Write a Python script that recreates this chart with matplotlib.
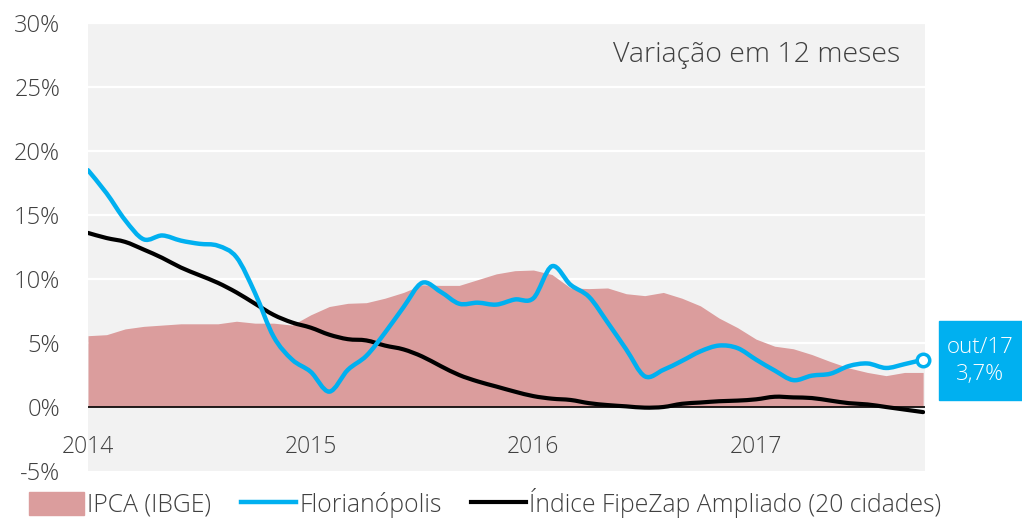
import numpy as np
import matplotlib
matplotlib.use("Agg")
import matplotlib.pyplot as plt
from matplotlib.path import Path
from matplotlib.patches import PathPatch, Patch, Rectangle
from matplotlib.lines import Line2D

# monthly data, jan/2014 .. out/2017 (variação em 12 meses, %)
months = np.arange(46)
ipca = [5.57, 5.65, 6.1, 6.3, 6.4, 6.5, 6.5, 6.5, 6.7, 6.55, 6.55, 6.4,
        7.2, 7.85, 8.1, 8.15, 8.5, 8.95, 9.55, 9.5, 9.5, 9.95, 10.4, 10.65,
        10.7, 10.35, 9.3, 9.25, 9.3, 8.85, 8.7, 8.95, 8.5, 7.9, 6.95, 6.2,
        5.3, 4.75, 4.55, 4.1, 3.55, 3.05, 2.7, 2.45, 2.7, 2.7]
floripa = [18.5, 16.7, 14.6, 13.1, 13.4, 13.0, 12.75, 12.6, 11.7, 8.9, 5.5, 3.7,
           2.75, 1.2, 2.9, 4.0, 5.8, 7.8, 9.7, 9.0, 8.07, 8.15, 8.0, 8.4,
           8.5, 11.0, 9.55, 8.6, 6.6, 4.5, 2.4, 2.9, 3.6, 4.35, 4.8, 4.6,
           3.7, 2.85, 2.1, 2.45, 2.6, 3.2, 3.4, 3.05, 3.35, 3.7]
fipezap = [13.6, 13.2, 12.9, 12.3, 11.65, 10.9, 10.3, 9.7, 8.95, 8.07, 7.2, 6.6,
           6.2, 5.65, 5.3, 5.2, 4.8, 4.5, 3.95, 3.2, 2.5, 2.0, 1.6, 1.2,
           0.85, 0.65, 0.55, 0.3, 0.15, 0.05, -0.05, 0.0, 0.25, 0.35, 0.45, 0.5,
           0.6, 0.8, 0.75, 0.7, 0.5, 0.3, 0.2, 0.0, -0.2, -0.4]
year_pos = [0, 12, 24, 36]
year_labels = ["2014", "2015", "2016", "2017"]
yticks = [-5, 0, 5, 10, 15, 20, 25, 30]
last_label = "out/17\n3,7%"

BLUE = "#00B0F0"
PINK = "#DB9D9D"
TXT = "#404040"
plt.rcParams["font.family"] = ["Open Sans", "DejaVu Sans"]
plt.rcParams["font.weight"] = "light"


def smooth_path(x, y):
    # excel-like smoothed line: cubic bezier through the points
    pts = np.column_stack([x, y]).astype(float)
    n = len(pts)
    verts = [pts[0]]
    codes = [Path.MOVETO]
    for i in range(n - 1):
        p0 = pts[max(i - 1, 0)]
        p1 = pts[i]
        p2 = pts[i + 1]
        p3 = pts[min(i + 2, n - 1)]
        verts += [p1 + (p2 - p0) / 6, p2 - (p3 - p1) / 6, p2]
        codes += [Path.CURVE4] * 3
    return Path(verts, codes)


fig = plt.figure(figsize=(10.22, 5.18), dpi=100)
ax = fig.add_axes([88 / 1022, 1 - 471 / 518, 837 / 1022, 448 / 518])
ax.set_facecolor("#F2F2F2")
ax.set_xlim(0, 45.1)
ax.set_ylim(-5, 30)

for v in yticks[2:]:
    ax.axhline(v, color="white", lw=1.6, zorder=1)

ax.fill_between(months, 0, ipca, color=PINK, lw=0, zorder=2)
ax.axhline(0, color="black", lw=1.2, zorder=3)

ax.add_patch(PathPatch(smooth_path(months, fipezap), fill=False, edgecolor="black",
                       lw=3.0, capstyle="round", joinstyle="round", zorder=4))
ax.add_patch(PathPatch(smooth_path(months, floripa), fill=False, edgecolor=BLUE,
                       lw=3.2, capstyle="round", joinstyle="round", zorder=5))
ax.plot(months[-1], floripa[-1], "o", ms=9, mfc="white", mec=BLUE, mew=2.5,
        zorder=6, clip_on=False)

ax.set_yticks(yticks)
ax.set_yticklabels([f"{v}%" for v in yticks])
ax.tick_params(axis="y", length=0, pad=20, labelsize=17, labelcolor=TXT)
ax.set_xticks([])
for p, lab in zip(year_pos, year_labels):
    ax.text(p, -3.1, lab, ha="center", va="center", fontsize=16.5, color=TXT)
for s in ax.spines.values():
    s.set_visible(False)

ax.text(0.97, 0.929, "Variação em 12 meses", transform=ax.transAxes,
        ha="right", va="center", fontsize=20.5, color=TXT)

# label box for the last value
fig.patches.append(Rectangle((939 / 1022, 1 - 400 / 518), 83 / 1022, 79 / 518,
                             transform=fig.transFigure, color=BLUE, zorder=0))
fig.text(980 / 1022, 1 - 361 / 518, last_label, ha="center", va="center",
         fontsize=16, color="white", linespacing=1.4)

handles = [Patch(color=PINK),
           Line2D([], [], color=BLUE, lw=3.2),
           Line2D([], [], color="black", lw=3.0)]
labels = ["IPCA (IBGE)", "Florianópolis", "Índice FipeZap Ampliado (20 cidades)"]
fig.legend(handles, labels, loc="center", bbox_to_anchor=(0.475, 0.029), ncol=3,
           frameon=False, fontsize=17.8, handlelength=2.2, handleheight=1.0,
           handletextpad=0.15, columnspacing=1.2, labelcolor=TXT)

fig.savefig("out.png", dpi=100)
